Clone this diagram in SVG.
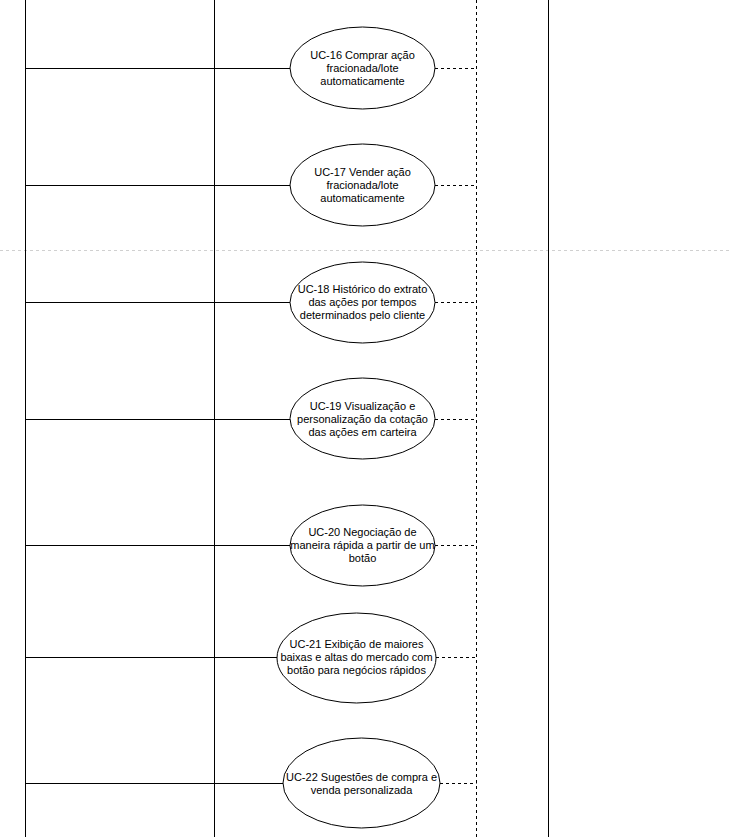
<svg xmlns="http://www.w3.org/2000/svg" width="730" height="837" viewBox="0 0 730 837">
<style>
.uc ellipse{fill:#fff;stroke:#000;stroke-width:1}
.uc text{font-family:"Liberation Sans",Arial,sans-serif;font-size:11px;fill:#000;text-anchor:middle}
.solid{stroke:#000;stroke-width:1;fill:none}
.dash{stroke:#000;stroke-width:1;fill:none;stroke-dasharray:3 3}
.page{stroke:#d0d0d0;stroke-width:1;stroke-dasharray:3 3}
</style>
<rect x="0" y="0" width="730" height="837" fill="#fff"/>
<line class="page" x1="0" y1="250.5" x2="730" y2="250.5"/>
<g id="frame">
<line class="solid" x1="214.5" y1="0" x2="214.5" y2="837"/>
<line class="solid" x1="548.5" y1="0" x2="548.5" y2="837"/>
</g>
<g id="connectors">
<line class="solid" x1="25.5" y1="0" x2="25.5" y2="837"/>
<line class="dash" x1="476.5" y1="0" x2="476.5" y2="837"/>
<line class="solid" x1="25.5" y1="68.5" x2="290" y2="68.5"/>
<line class="solid" x1="25.5" y1="185.5" x2="290" y2="185.5"/>
<line class="solid" x1="25.5" y1="302.5" x2="290" y2="302.5"/>
<line class="solid" x1="25.5" y1="419.5" x2="290" y2="419.5"/>
<line class="solid" x1="25.5" y1="545.5" x2="290" y2="545.5"/>
<line class="solid" x1="25.5" y1="657.5" x2="277" y2="657.5"/>
<line class="solid" x1="25.5" y1="783.5" x2="283" y2="783.5"/>
<line class="dash" x1="435" y1="68.5" x2="476.5" y2="68.5"/>
<line class="dash" x1="435" y1="185.5" x2="476.5" y2="185.5"/>
<line class="dash" x1="435" y1="302.5" x2="476.5" y2="302.5"/>
<line class="dash" x1="435" y1="419.5" x2="476.5" y2="419.5"/>
<line class="dash" x1="435" y1="545.5" x2="476.5" y2="545.5"/>
<line class="dash" x1="436" y1="657.5" x2="476.5" y2="657.5"/>
<line class="dash" x1="440" y1="783.5" x2="476.5" y2="783.5"/>
</g>
<g id="uc16" class="uc">
<ellipse cx="362.5" cy="68" rx="72.5" ry="41"/>
<text x="362.5" y="59">UC-16 Comprar ação</text>
<text x="362.5" y="72">fracionada/lote</text>
<text x="362.5" y="85">automaticamente</text>
</g>
<g id="uc17" class="uc">
<ellipse cx="362.5" cy="185" rx="72.5" ry="41"/>
<text x="362.5" y="176">UC-17 Vender ação</text>
<text x="362.5" y="189">fracionada/lote</text>
<text x="362.5" y="202">automaticamente</text>
</g>
<g id="uc18" class="uc">
<ellipse cx="362.5" cy="302.5" rx="72.5" ry="40.5"/>
<text x="362.5" y="293">UC-18 Histórico do extrato</text>
<text x="362.5" y="306">das ações por tempos</text>
<text x="362.5" y="319">determinados pelo cliente</text>
</g>
<g id="uc19" class="uc">
<ellipse cx="362.5" cy="418.5" rx="72.5" ry="40.5"/>
<text x="362.5" y="410">UC-19 Visualização e</text>
<text x="362.5" y="423">personalização da cotação</text>
<text x="362.5" y="436">das ações em carteira</text>
</g>
<g id="uc20" class="uc">
<ellipse cx="362.5" cy="545.5" rx="72.5" ry="40.5"/>
<text x="362.5" y="536">UC-20 Negociação de</text>
<text x="362.5" y="549">maneira rápida a partir de um</text>
<text x="362.5" y="562">botão</text>
</g>
<g id="uc21" class="uc">
<ellipse cx="356.5" cy="658" rx="79.5" ry="45"/>
<text x="356.5" y="648">UC-21 Exibição de maiores</text>
<text x="356.5" y="661">baixas e altas do mercado com</text>
<text x="356.5" y="674">botão para negócios rápidos</text>
</g>
<g id="uc22" class="uc">
<ellipse cx="361.5" cy="783" rx="78.5" ry="45"/>
<text x="361.5" y="781">UC-22 Sugestões de compra e</text>
<text x="361.5" y="794">venda personalizada</text>
</g>
</svg>
